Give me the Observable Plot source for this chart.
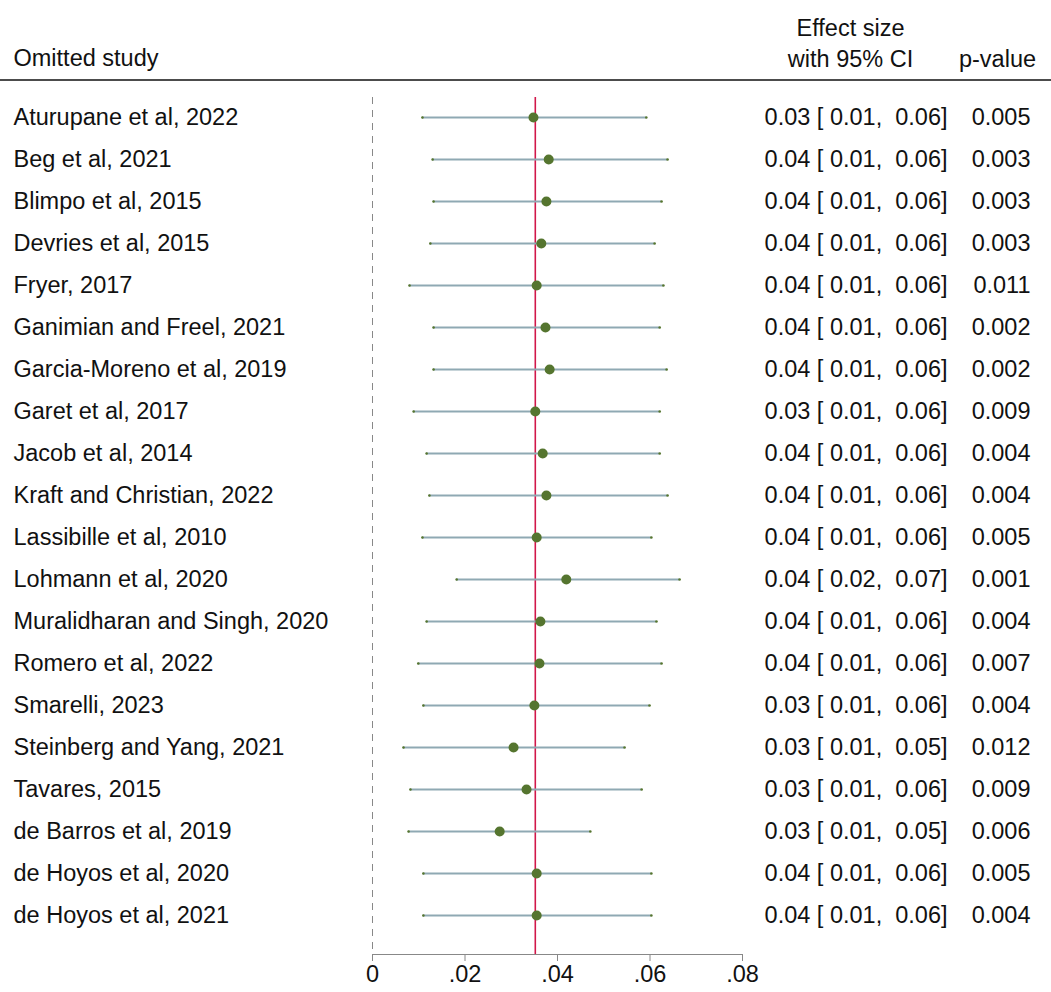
<!DOCTYPE html>
<html><head><meta charset="utf-8">
<script src="https://cdn.jsdelivr.net/npm/d3@7"></script>
<script src="https://cdn.jsdelivr.net/npm/@observablehq/plot@0.6"></script>
<style>body{margin:0;background:#fff}</style>
</head><body><div id="c"></div>
<script>
const studies=["Aturupane et al, 2022","Beg et al, 2021","Blimpo et al, 2015","Devries et al, 2015","Fryer, 2017","Ganimian and Freel, 2021","Garcia-Moreno et al, 2019","Garet et al, 2017","Jacob et al, 2014","Kraft and Christian, 2022","Lassibille et al, 2010","Lohmann et al, 2020","Muralidharan and Singh, 2020","Romero et al, 2022","Smarelli, 2023","Steinberg and Yang, 2021","Tavares, 2015","de Barros et al, 2019","de Hoyos et al, 2020","de Hoyos et al, 2021"];
const est=[.0348,.0381,.0376,.0365,.0355,.0374,.0383,.0352,.0368,.0376,.0355,.0419,.0363,.0361,.0350,.0305,.0333,.0275,.0355,.0355];
const lo=[.0108,.0130,.0132,.0125,.0080,.0132,.0132,.0089,.0117,.0123,.0108,.0182,.0117,.0099,.0110,.0067,.0082,.0078,.0110,.0110];
const hi=[.0592,.0638,.0625,.0610,.0629,.0621,.0636,.0621,.0621,.0638,.0603,.0664,.0614,.0625,.0599,.0545,.0582,.0471,.0603,.0603];
const ciText=["0.03 [ 0.01,  0.06]","0.04 [ 0.01,  0.06]","0.04 [ 0.01,  0.06]","0.04 [ 0.01,  0.06]","0.04 [ 0.01,  0.06]","0.04 [ 0.01,  0.06]","0.04 [ 0.01,  0.06]","0.03 [ 0.01,  0.06]","0.04 [ 0.01,  0.06]","0.04 [ 0.01,  0.06]","0.04 [ 0.01,  0.06]","0.04 [ 0.02,  0.07]","0.04 [ 0.01,  0.06]","0.04 [ 0.01,  0.06]","0.03 [ 0.01,  0.06]","0.03 [ 0.01,  0.05]","0.03 [ 0.01,  0.06]","0.03 [ 0.01,  0.05]","0.04 [ 0.01,  0.06]","0.04 [ 0.01,  0.06]"];
const pvals=["0.005","0.003","0.003","0.003","0.011","0.002","0.002","0.009","0.004","0.004","0.005","0.001","0.004","0.007","0.004","0.012","0.009","0.006","0.005","0.004"];
const overall=[0.0352];
const xTicks=[0,.02,.04,.06,.08];
const xTickLabels=["0",".02",".04",".06",".08"];
const rows=studies.map((s,i)=>({s,est:est[i],lo:lo[i],hi:hi[i],ci:ciText[i],p:pvals[i]}));
const fs=23.5;
const headerLine=(index,scales,values,dim)=>{
  const l=document.createElementNS("http://www.w3.org/2000/svg","line");
  l.setAttribute("x1",0);l.setAttribute("x2",dim.width);
  l.setAttribute("y1",dim.marginTop-17);l.setAttribute("y2",dim.marginTop-17);
  l.setAttribute("stroke","#111");l.setAttribute("stroke-width",1.5);
  return l;
};
const chart=Plot.plot({
  width:1051,height:992,marginLeft:372,marginRight:309,marginTop:97,marginBottom:38,
  style:{fontFamily:"'Liberation Sans', Arial, sans-serif",fontSize:fs+"px",background:"#fff",overflow:"visible"},
  x:{domain:[0,0.08]},
  y:{type:"point",domain:studies,range:[116,916],padding:0,axis:null},
  marks:[
    Plot.ruleX([0],{stroke:"#888",strokeDasharray:"7,6"}),
    Plot.axisX({ticks:xTicks,tickFormat:(d,i)=>xTickLabels[i],tickSize:7,stroke:"#888",fontSize:fs,color:"#111",tickPadding:4,label:null}),
    Plot.frame({anchor:"bottom",stroke:"#888"}),
    headerLine,
    Plot.ruleX(overall,{stroke:"#d1174a",strokeWidth:1.6}),
    Plot.ruleY(rows,{y:"s",x1:"lo",x2:"hi",stroke:"#8fa9b3",strokeWidth:1.8}),
    Plot.dot(rows,{y:"s",x:"lo",r:1.3,fill:"#55752f"}),
    Plot.dot(rows,{y:"s",x:"hi",r:1.3,fill:"#55752f"}),
    Plot.dot(rows,{y:"s",x:"est",r:5,fill:"#55752f"}),
    Plot.text(rows,{y:"s",text:"s",frameAnchor:"left",dx:-359,textAnchor:"start",fontSize:fs,fill:"#111"}),
    Plot.text(rows,{y:"s",text:"ci",frameAnchor:"right",dx:205,textAnchor:"end",fontSize:fs,fill:"#111",style:"white-space:pre"}),
    Plot.text(rows,{y:"s",text:"p",frameAnchor:"right",dx:288,textAnchor:"end",fontSize:fs,fill:"#111"}),
    Plot.text(["Omitted study"],{frameAnchor:"top-left",dx:-359,dy:-48,textAnchor:"start",fontSize:fs,fill:"#111"}),
    Plot.text(["Effect size"],{frameAnchor:"top-right",dx:108,dy:-78,textAnchor:"middle",fontSize:fs,fill:"#111"}),
    Plot.text(["with 95% CI"],{frameAnchor:"top-right",dx:108,dy:-47,textAnchor:"middle",fontSize:fs,fill:"#111"}),
    Plot.text(["p-value"],{frameAnchor:"top-right",dx:255,dy:-47,textAnchor:"middle",fontSize:fs,fill:"#111"})
  ]
});
document.getElementById("c").appendChild(chart);
</script></body></html>
